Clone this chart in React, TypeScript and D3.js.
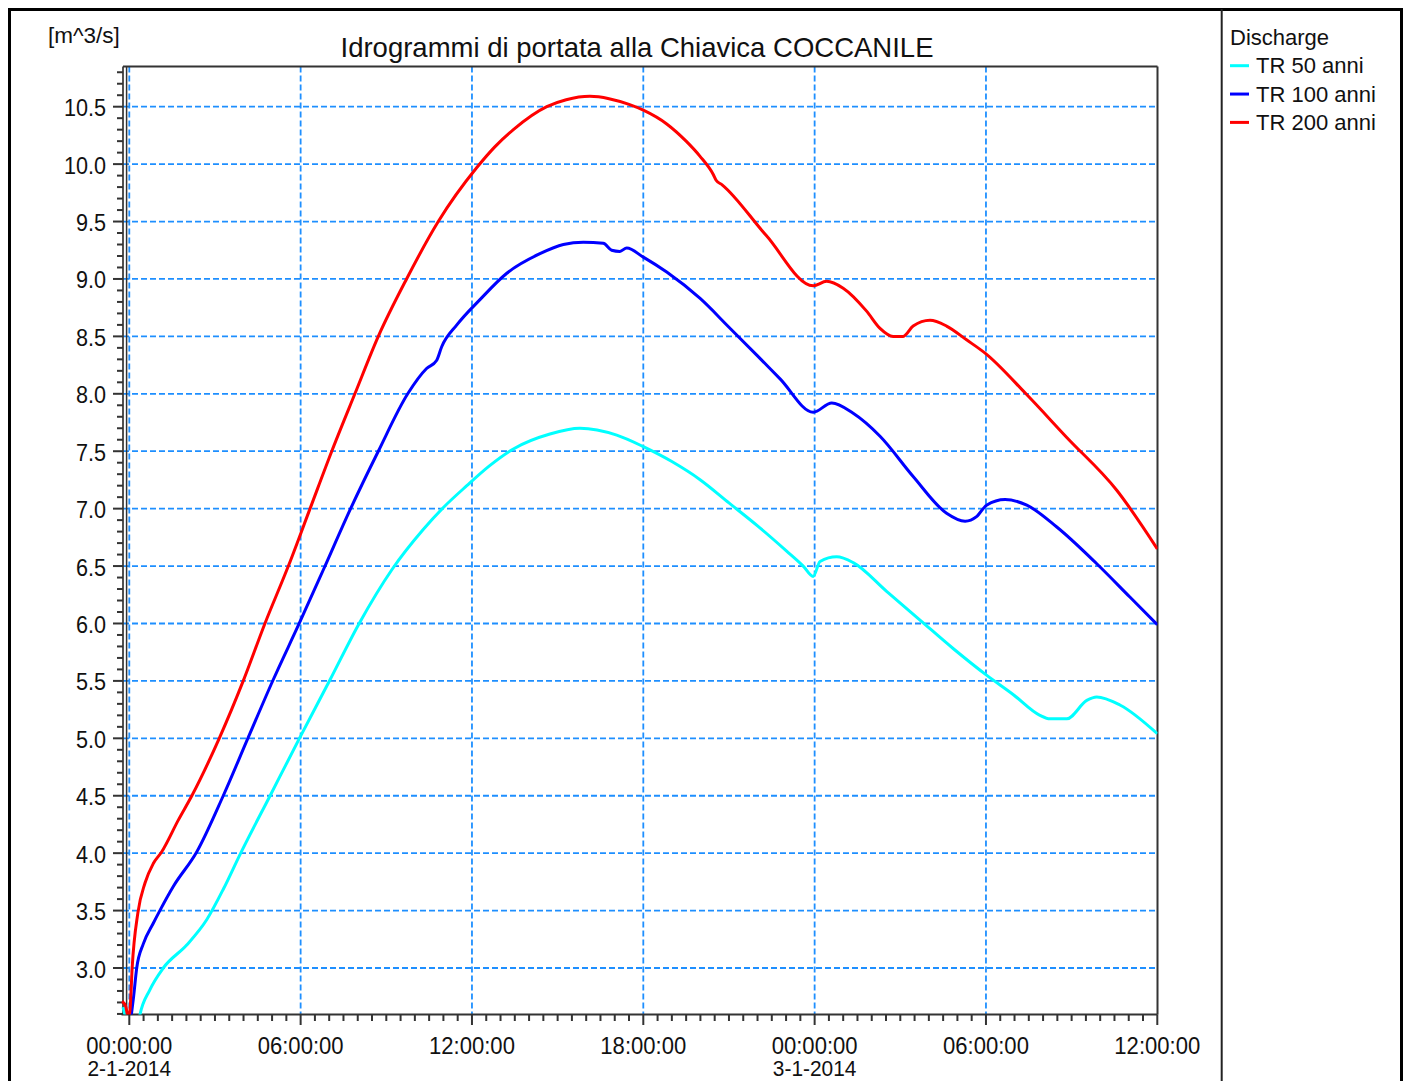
import React from 'react'
import * as d3 from 'd3'

// series meta
const seriesNames = ['TR 50 anni', 'TR 100 anni', 'TR 200 anni']
const seriesColors = ['#00ffff', '#0000ff', '#ff0000']

// [hours from 2-1-2014 00:00, discharge m^3/s]
const tr50: [number, number][] = [
  [-0.22, 2.66], [-0.1, 2.56], [0.3, 2.5], [0.37, 2.59], [0.72, 2.81], [1.19, 3.0],
  [2.01, 3.2], [2.71, 3.42], [3.3, 3.69], [3.88, 3.99], [4.93, 4.5], [5.98, 5.01],
  [7.03, 5.51], [8.05, 6.0], [9.2, 6.47], [10.3, 6.82], [11.0, 7.01], [11.82, 7.2],
  [12.6, 7.37], [13.45, 7.52], [14.73, 7.65], [15.78, 7.7], [17.07, 7.64], [18.0, 7.54],
  [19.0, 7.41], [20.0, 7.25], [21.0, 7.05], [22.0, 6.85], [23.02, 6.63], [23.6, 6.5],
  [23.95, 6.41], [24.19, 6.54], [24.77, 6.58], [25.35, 6.53], [26.52, 6.28], [27.69, 6.03],
  [28.86, 5.78], [30.02, 5.55], [30.96, 5.38], [31.89, 5.2], [32.24, 5.17], [32.83, 5.17],
  [33.53, 5.33], [33.88, 5.36], [34.69, 5.29], [36.0, 5.04],
]

const tr100: [number, number][] = [
  [0.05, 2.55], [0.15, 2.75], [0.26, 3.0], [0.49, 3.21], [0.84, 3.39], [1.07, 3.5],
  [1.54, 3.71], [2.36, 4.01], [3.29, 4.5], [4.17, 5.01], [5.04, 5.51], [5.95, 6.0],
  [6.8, 6.47], [7.75, 7.0], [8.72, 7.5], [9.75, 8.0], [10.41, 8.22], [10.76, 8.29],
  [10.94, 8.41], [11.47, 8.6], [12.28, 8.82], [13.22, 9.05], [14.38, 9.22], [15.2, 9.3],
  [15.9, 9.32], [16.6, 9.31], [16.89, 9.25], [17.18, 9.24], [17.42, 9.27], [18.0, 9.19],
  [18.82, 9.06], [19.99, 8.83], [21.0, 8.58], [22.0, 8.33], [22.79, 8.13], [23.95, 7.84],
  [24.6, 7.92], [25.35, 7.83], [26.29, 7.63], [27.45, 7.28], [28.62, 6.96], [29.27, 6.89],
  [29.67, 6.93], [30.02, 7.03], [30.67, 7.08], [31.43, 7.03], [32.48, 6.84], [33.88, 6.52],
  [35.04, 6.23], [36.0, 5.99],
]

const tr200: [number, number][] = [
  [-0.25, 2.71], [-0.12, 2.66], [-0.03, 2.56], [0.03, 2.65], [0.1, 3.0], [0.3, 3.48],
  [0.55, 3.74], [0.84, 3.91], [1.13, 4.01], [1.72, 4.29], [2.19, 4.5], [3.15, 5.0],
  [3.99, 5.5], [4.75, 6.0], [5.57, 6.5], [6.33, 7.0], [7.09, 7.5], [7.9, 8.0],
  [8.72, 8.5], [9.71, 9.0], [10.82, 9.5], [12.17, 9.97], [12.8, 10.15], [13.45, 10.3],
  [14.62, 10.5], [15.3, 10.56], [16.13, 10.59], [16.8, 10.57], [17.5, 10.52], [18.0, 10.47],
  [18.82, 10.35], [19.5, 10.2], [19.98, 10.07], [20.45, 9.91], [20.55, 9.86], [20.76, 9.82],
  [22.3, 9.38], [23.95, 8.94], [24.42, 8.98], [25.0, 8.92], [25.82, 8.72], [26.29, 8.57],
  [26.75, 8.5], [27.1, 8.5], [27.45, 8.59], [28.04, 8.64], [28.62, 8.59], [29.32, 8.47],
  [29.99, 8.35], [31.4, 8.0], [32.83, 7.62], [34.58, 7.16], [36.0, 6.65],
]

const allSeries = [tr50, tr100, tr200]

const yTickValues = [3.0, 3.5, 4.0, 4.5, 5.0, 5.5, 6.0, 6.5, 7.0, 7.5, 8.0, 8.5, 9.0, 9.5, 10.0, 10.5]
const xTickHours = [0, 6, 12, 18, 24, 30, 36]
const xTickLabels = ['00:00:00', '06:00:00', '12:00:00', '18:00:00', '00:00:00', '06:00:00', '12:00:00']
const dateHours = [0, 24]
const dateLabels = ['2-1-2014', '3-1-2014']

const title = 'Idrogrammi di portata alla Chiavica COCCANILE'
const unitLabel = '[m^3/s]'
const legendTitle = 'Discharge'

const font = '"Liberation Sans", Arial, sans-serif'

export default function App() {
  const W = 1408
  const H = 1081
  // plot frame
  const left = 123
  const right = 1157.5
  const top = 66.5
  const bottom = 1014.5

  const x = d3.scaleLinear().domain([0, 36]).range([129.3, 1157.3])
  const y = d3.scaleLinear().domain([3, 10.5]).range([968, 106.7])

  const line = d3.line<[number, number]>()
    .x(d => x(d[0]))
    .y(d => y(d[1]))
    .curve(d3.curveMonotoneX)

  const yMinor = d3.range(26, 109).map(v => v / 10).filter(v => Math.round(v * 10) % 5 !== 0)
  const xMinor = d3.range(0, 73).map(i => i / 2).filter(h => h % 6 !== 0)
  const gridColor = '#1e8fff'
  const axisColor = '#333'

  return (
    <svg
      width={W}
      height={H}
      style={{ position: 'absolute', left: 0, top: 0, display: 'block', background: '#fff' }}
      fontFamily={font}
    >
      <defs>
        <clipPath id="plot-clip">
          <rect x={120} y={top} width={right - 120} height={bottom - top} />
        </clipPath>
      </defs>

      {/* outer frame + legend separator */}
      <rect x={9.5} y={9.5} width={1392} height={1100} fill="#fff" stroke="#000" strokeWidth={3} />
      <line x1={1221.7} x2={1221.7} y1={9} y2={H} stroke="#222" strokeWidth={2} />

      {/* grid */}
      {yTickValues.map(v => (
        <line key={'gy' + v} x1={left} x2={right} y1={y(v)} y2={y(v)}
          stroke={gridColor} strokeWidth={1.8} strokeDasharray="6,3" />
      ))}
      {xTickHours.filter(h => h < 36).map(h => (
        <line key={'gx' + h} x1={x(h)} x2={x(h)} y1={top} y2={bottom}
          stroke={gridColor} strokeWidth={1.8} strokeDasharray="6,3" />
      ))}

      {/* frame */}
      <line x1={left} x2={right} y1={top} y2={top} stroke={axisColor} strokeWidth={2} />
      <line x1={right} x2={right} y1={top} y2={bottom} stroke={axisColor} strokeWidth={2} />
      <line x1={121.5} x2={right} y1={bottom} y2={bottom} stroke={axisColor} strokeWidth={2} />
      <line x1={left} x2={left} y1={top} y2={bottom} stroke={axisColor} strokeWidth={1.7} />
      <line x1={126.6} x2={126.6} y1={top} y2={bottom} stroke={axisColor} strokeWidth={1.5} />

      {/* y ticks */}
      {yTickValues.map(v => (
        <line key={'ty' + v} x1={113} x2={left} y1={y(v)} y2={y(v)} stroke={axisColor} strokeWidth={2} />
      ))}
      {yMinor.map(v => (
        <line key={'my' + v} x1={117} x2={left} y1={y(v)} y2={y(v)} stroke={axisColor} strokeWidth={2} />
      ))}
      {yTickValues.map(v => (
        <text key={'ly' + v} transform={`translate(106,${y(v) + 9.5}) scale(0.9,1)`}
          textAnchor="end" fontSize={24} fill="#111">{v.toFixed(1)}</text>
      ))}

      {/* x ticks */}
      {xTickHours.map(h => (
        <line key={'tx' + h} x1={x(h)} x2={x(h)} y1={bottom} y2={bottom + 10.5} stroke={axisColor} strokeWidth={2} />
      ))}
      {xMinor.map(h => (
        <line key={'mx' + h} x1={x(h)} x2={x(h)} y1={bottom} y2={bottom + 6.5} stroke={axisColor} strokeWidth={2} />
      ))}
      {xTickHours.map((h, i) => (
        <text key={'lx' + h} transform={`translate(${x(h)},1054) scale(0.92,1)`}
          textAnchor="middle" fontSize={24} fill="#111">{xTickLabels[i]}</text>
      ))}
      {dateHours.map((h, i) => (
        <text key={'ld' + h} transform={`translate(${x(h)},1076) scale(0.95,1)`}
          textAnchor="middle" fontSize={22} fill="#111">{dateLabels[i]}</text>
      ))}

      {/* series */}
      <g clipPath="url(#plot-clip)">
        {allSeries.map((s, i) => (
          <path key={seriesNames[i]} d={line(s) || ''} fill="none"
            stroke={seriesColors[i]} strokeWidth={3} strokeLinejoin="round" />
        ))}
      </g>

      {/* titles */}
      <text x={637} y={57} textAnchor="middle" fontSize={27.5} fill="#111">{title}</text>
      <text x={48} y={43.3} fontSize={22.5} fill="#111">{unitLabel}</text>

      {/* legend */}
      <text x={1230} y={45} fontSize={22} fill="#111">{legendTitle}</text>
      {seriesNames.map((name, i) => {
        const ly = 73.3 + i * 28.35
        return (
          <g key={'leg' + name}>
            <line x1={1230} x2={1249} y1={ly - 7.6} y2={ly - 7.6} stroke={seriesColors[i]} strokeWidth={3} />
            <text x={1256} y={ly} fontSize={22} fill="#111">{name}</text>
          </g>
        )
      })}
    </svg>
  )
}
